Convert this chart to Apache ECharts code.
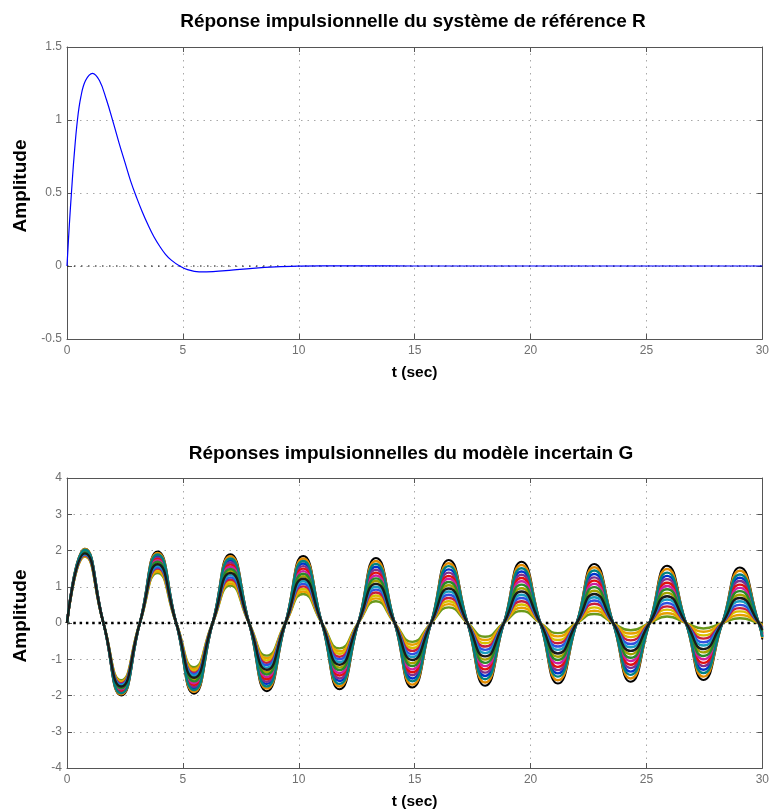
<!DOCTYPE html>
<html><head><meta charset="utf-8">
<script src="https://cdn.jsdelivr.net/npm/echarts@6/dist/echarts.min.js"></script>
<style>html,body{margin:0;padding:0;background:#fff;}#c{width:772px;height:811px;}</style>
</head><body><div id="c"></div>
<script>
const FONT = '"Liberation Sans", Arial, Helvetica, sans-serif';

// ---- texts ----
const titleR = 'Réponse impulsionnelle du système de référence R';
const titleG = 'Réponses impulsionnelles du modèle incertain G';
const xName = 't (sec)';
const yName = 'Amplitude';

// ---- tick values ----
const xTicks = [0, 5, 10, 15, 20, 25, 30];
const yTicksR = [-0.5, 0, 0.5, 1, 1.5];
const yTicksG = [-4, -3, -2, -1, 0, 1, 2, 3, 4];

// ---- reference system R impulse response ----
const rTime = [0, 0.1, 0.2, 0.3, 0.45, 0.6, 0.8, 1.1, 1.4, 1.7, 2.0, 2.25, 2.5, 2.75, 3.0, 3.25, 3.5, 3.75, 4.0, 4.25, 4.5, 4.86, 5.2, 5.7, 6.3, 7.0, 8.0, 9.0, 10.0, 11.0, 12.5, 15, 30];
const rAmp  = [0, 0.28, 0.52, 0.74, 1.0, 1.16, 1.27, 1.32, 1.27, 1.14, 0.98, 0.84, 0.71, 0.58, 0.47, 0.37, 0.28, 0.20, 0.135, 0.08, 0.04, 0.0, -0.025, -0.04, -0.038, -0.03, -0.016, -0.006, -0.001, 0.001, 0.001, 0, 0];

// ---- uncertain model G: extrema times, zero crossing times ----
const gPeakTimes = [0.77, 2.34, 3.91, 5.48, 7.05, 8.62, 10.19, 11.76, 13.33, 14.90, 16.47, 18.04, 19.61, 21.18, 22.75, 24.32, 25.89, 27.46, 29.03];
const gZeroTimes = [0, 1.571, 3.142, 4.712, 6.283, 7.854, 9.425, 10.996, 12.566, 14.137, 15.708, 17.279, 18.850, 20.420, 21.991, 23.562, 25.133, 26.704, 28.274, 29.845];
const gEndTime = 30;

// extrema values of each response (19 extrema) + value at t = 30
const g01 = [2.05,-2.00,1.97,-1.95,1.90,-1.88,1.85,-1.83,1.79,-1.78,1.74,-1.73,1.69,-1.67,1.63,-1.62,1.58,-1.57,1.53,-0.45];
const g02 = [2.04,-1.97,1.93,-1.90,1.84,-1.81,1.78,-1.75,1.71,-1.70,1.65,-1.64,1.60,-1.58,1.54,-1.53,1.49,-1.48,1.44,-0.42];
const g03 = [2.02,-1.94,1.89,-1.85,1.78,-1.75,1.71,-1.68,1.63,-1.61,1.57,-1.55,1.51,-1.48,1.45,-1.43,1.39,-1.38,1.34,-0.39];
const g04 = [2.01,-1.92,1.85,-1.80,1.73,-1.68,1.64,-1.60,1.55,-1.53,1.48,-1.46,1.42,-1.39,1.35,-1.34,1.30,-1.29,1.25,-0.37];
const g05 = [1.99,-1.89,1.81,-1.76,1.67,-1.62,1.57,-1.53,1.47,-1.44,1.39,-1.37,1.33,-1.30,1.26,-1.24,1.21,-1.19,1.16,-0.34];
const g06 = [1.98,-1.86,1.77,-1.71,1.61,-1.55,1.50,-1.45,1.39,-1.36,1.30,-1.28,1.24,-1.21,1.17,-1.15,1.11,-1.10,1.06,-0.31];
const g07 = [1.96,-1.83,1.73,-1.66,1.55,-1.49,1.43,-1.38,1.31,-1.28,1.22,-1.19,1.15,-1.11,1.08,-1.05,1.02,-1.00,0.97,-0.28];
const g08 = [1.95,-1.80,1.69,-1.61,1.49,-1.42,1.36,-1.30,1.23,-1.19,1.13,-1.10,1.06,-1.02,0.99,-0.96,0.93,-0.91,0.88,-0.26];
const g09 = [1.93,-1.78,1.66,-1.56,1.44,-1.36,1.29,-1.23,1.16,-1.11,1.04,-1.01,0.96,-0.93,0.89,-0.86,0.83,-0.81,0.78,-0.23];
const g10 = [1.92,-1.75,1.62,-1.51,1.38,-1.29,1.22,-1.15,1.08,-1.02,0.95,-0.92,0.87,-0.84,0.80,-0.77,0.74,-0.72,0.69,-0.20];
const g11 = [1.90,-1.72,1.58,-1.46,1.32,-1.23,1.15,-1.08,1.00,-0.94,0.87,-0.83,0.78,-0.74,0.71,-0.67,0.65,-0.62,0.60,-0.17];
const g12 = [1.89,-1.69,1.54,-1.41,1.26,-1.16,1.08,-1.00,0.92,-0.86,0.78,-0.74,0.69,-0.65,0.62,-0.58,0.55,-0.53,0.50,-0.15];
const g13 = [1.87,-1.66,1.50,-1.37,1.20,-1.10,1.01,-0.93,0.84,-0.77,0.69,-0.65,0.60,-0.56,0.53,-0.48,0.46,-0.43,0.41,-0.12];
const g14 = [1.86,-1.64,1.46,-1.32,1.15,-1.03,0.94,-0.85,0.76,-0.69,0.60,-0.56,0.51,-0.47,0.43,-0.39,0.37,-0.34,0.32,-0.09];
const g15 = [1.84,-1.61,1.42,-1.27,1.09,-0.97,0.87,-0.78,0.68,-0.60,0.52,-0.47,0.42,-0.37,0.34,-0.29,0.27,-0.24,0.22,-0.06];
const g16 = [1.83,-1.58,1.38,-1.22,1.03,-0.90,0.80,-0.70,0.60,-0.52,0.43,-0.38,0.33,-0.28,0.25,-0.20,0.18,-0.15,0.13,-0.04];
const gCurves = [g01,g02,g03,g04,g05,g06,g07,g08,g09,g10,g11,g12,g13,g14,g15,g16];
const gColors = ['#000000','#e08a00','#008080','#0033cc','#7e2f8e','#e01010','#cc1fa0','#2a8a2a','#a3a300','#1a1a1a','#1a9ec0','#3050e0','#c81e3c','#d8c000','#e8a000','#6a9a1a'];
// order in which the responses are painted (later = on top)
const gDrawOrder = [0, 15, 14, 1, 13, 3, 12, 4, 11, 5, 8, 6, 10, 7, 2, 9];

// ---- build ----
function gSeriesData(vals) {
  const d = [[gZeroTimes[0], 0]];
  for (let k = 0; k < gPeakTimes.length; k++) {
    d.push([gPeakTimes[k], vals[k]]);
    d.push([gZeroTimes[k + 1], 0]);
  }
  d.push([gEndTime, vals[gPeakTimes.length]]);
  return d;
}

const AX = '#555';
const LBL = '#707070';
const GRIDC = '#a8a8a8';
function xAxes(gi) {
  const base = {gridIndex: gi, type: 'value', min: xTicks[0], max: xTicks[xTicks.length - 1], interval: xTicks[1] - xTicks[0]};
  return [
    Object.assign({}, base, {
      position: 'bottom',
      axisLine: {onZero: false, lineStyle: {color: AX, width: 1}},
      axisTick: {inside: true, length: 5, lineStyle: {color: AX}},
      axisLabel: {color: LBL, fontSize: 12, fontFamily: FONT, margin: 6},
      splitLine: {show: true, lineStyle: {color: GRIDC, type: [1.5, 5], width: 1}},
      name: xName, nameLocation: 'middle', nameGap: 26,
      nameTextStyle: {fontWeight: 'bold', fontSize: 15.5, color: '#000', fontFamily: FONT}
    }),
    Object.assign({}, base, {
      position: 'top',
      axisLine: {onZero: false, lineStyle: {color: AX, width: 1}},
      axisTick: {inside: true, length: 5, lineStyle: {color: AX}},
      axisLabel: {show: false},
      splitLine: {show: false}
    })
  ];
}
function yAxes(gi, ticks) {
  const base = {gridIndex: gi, type: 'value', min: ticks[0], max: ticks[ticks.length - 1], interval: ticks[1] - ticks[0]};
  return [
    Object.assign({}, base, {
      position: 'left',
      axisLine: {onZero: false, lineStyle: {color: AX, width: 1}},
      axisTick: {inside: true, length: 5, lineStyle: {color: AX}},
      axisLabel: {color: LBL, fontSize: 12, fontFamily: FONT, margin: 5},
      splitLine: {show: true, lineStyle: {color: GRIDC, type: [1.5, 5], width: 1}},
      name: yName, nameLocation: 'middle', nameGap: 37, nameRotate: 90,
      nameTextStyle: {fontWeight: 'bold', fontSize: 19, color: '#000', fontFamily: FONT, padding: [0, 0, 0, 14]}
    }),
    Object.assign({}, base, {
      position: 'right',
      axisLine: {onZero: false, lineStyle: {color: AX, width: 1}},
      axisTick: {inside: true, length: 5, lineStyle: {color: AX}},
      axisLabel: {show: false},
      splitLine: {show: false}
    })
  ];
}

const series = [];
// zero reference lines
series.push({type: 'line', xAxisIndex: 0, yAxisIndex: 0, data: [[xTicks[0], 0], [xTicks[xTicks.length - 1], 0]],
  showSymbol: false, silent: true, z: 1, lineStyle: {color: '#000', width: 1, type: [1.5, 5.5]}});
series.push({type: 'line', xAxisIndex: 0, yAxisIndex: 0, data: rTime.map((t, i) => [t, rAmp[i]]),
  smooth: 0.4, showSymbol: false, z: 3, lineStyle: {color: '#0000ff', width: 1.2}});
series.push({type: 'line', xAxisIndex: 2, yAxisIndex: 2, data: [[xTicks[0], 0], [xTicks[xTicks.length - 1], 0]],
  showSymbol: false, silent: true, z: 1, lineStyle: {color: '#000', width: 2.5, type: [2.5, 3.8]}});
gDrawOrder.forEach(j => {
  series.push({type: 'line', xAxisIndex: 2, yAxisIndex: 2, data: gSeriesData(gCurves[j]), smooth: 0.55,
    showSymbol: false, z: 3, lineStyle: {color: gColors[j], width: j === 0 ? 2.0 : 2.4}});
});

const chart = echarts.init(document.getElementById('c'), null, {renderer: 'canvas'});
chart.setOption({
  animation: false,
  backgroundColor: '#fff',
  grid: [
    {left: 67, top: 47, width: 698, height: 292},
    {left: 67, top: 478, width: 698, height: 291}
  ],
  xAxis: xAxes(0).concat(xAxes(1)),
  yAxis: yAxes(0, yTicksR).concat(yAxes(1, yTicksG)),
  graphic: [
    {type: 'text', x: 413, y: 22, style: {text: titleR, font: 'bold 19px ' + FONT, fill: '#000', textAlign: 'center', textVerticalAlign: 'middle'}},
    {type: 'text', x: 411, y: 454, style: {text: titleG, font: 'bold 19px ' + FONT, fill: '#000', textAlign: 'center', textVerticalAlign: 'middle'}}
  ],
  series: series
});
</script></body></html>
